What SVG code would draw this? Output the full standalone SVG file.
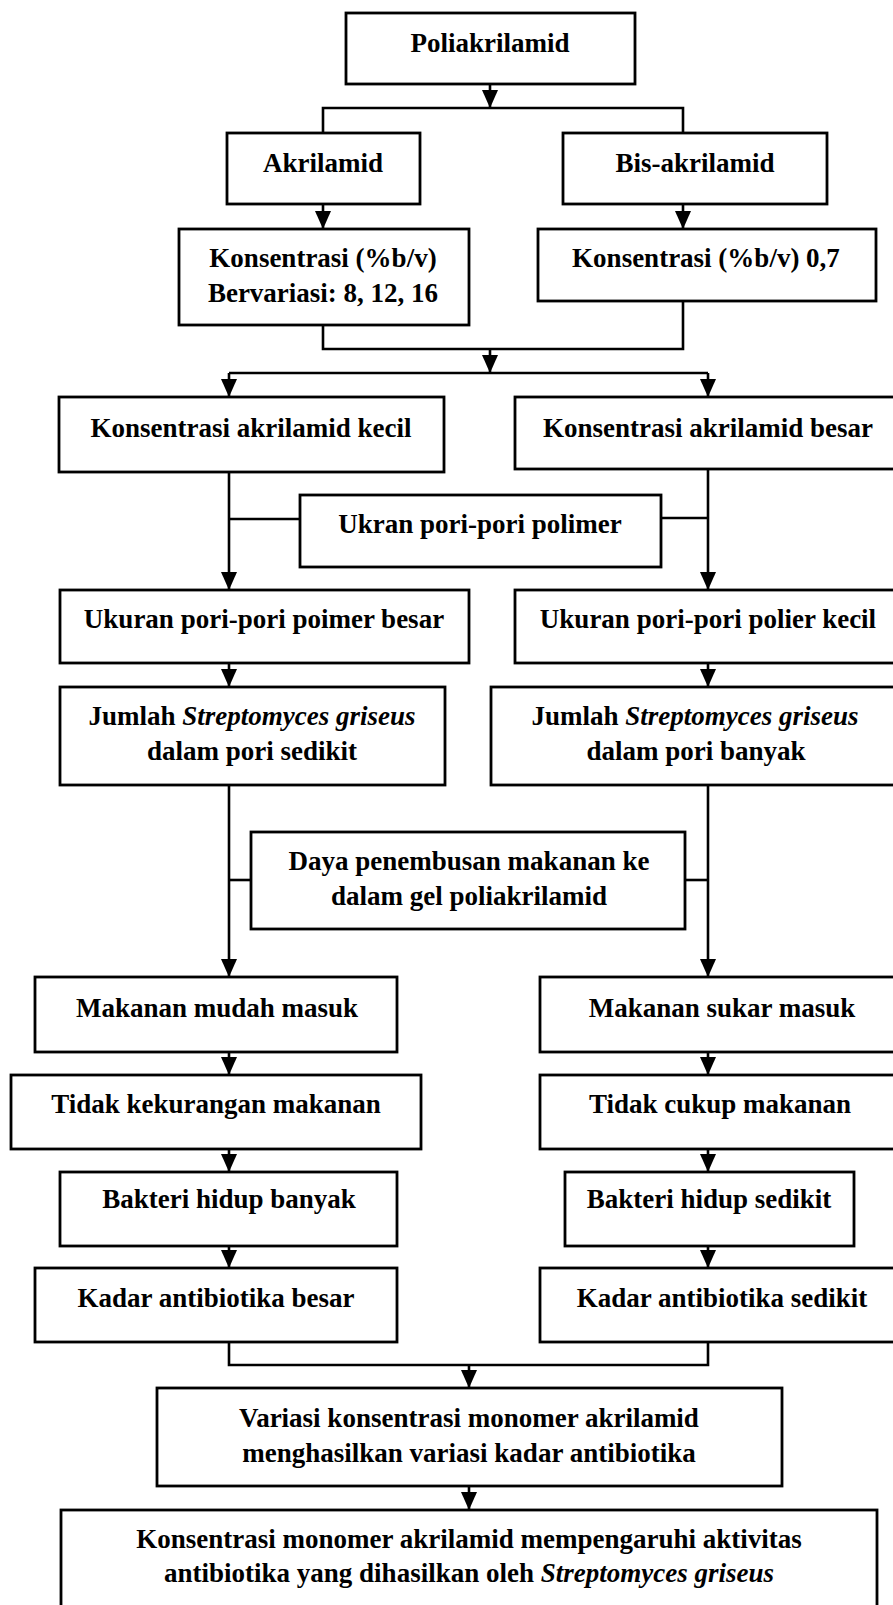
<svg xmlns="http://www.w3.org/2000/svg" width="893" height="1605" viewBox="0 0 893 1605">
<style>
.box{fill:#fff;stroke:#000;stroke-width:2.8}
.ln{fill:none;stroke:#000;stroke-width:2.6}
.ar{fill:none;stroke:#000;stroke-width:2.6;marker-end:url(#ah)}
text{font-family:"Liberation Serif","Times New Roman",serif;font-weight:bold;font-size:27px;text-anchor:middle;fill:#000}
.it{font-style:italic}
</style>
<defs>
<marker id="ah" viewBox="0 0 18 16" refX="18" refY="8" markerWidth="18" markerHeight="16" orient="auto" markerUnits="userSpaceOnUse">
<path d="M0,0 L18,8 L0,16 z" fill="#000"/>
</marker>
</defs>
<rect width="893" height="1605" fill="#fff"/>
<g id="connectors">
<path class="ar" d="M490,84 V108"/>
<path class="ln" d="M323,133 V108 H683 V133"/>
<path class="ar" d="M323,204 V229"/>
<path class="ar" d="M683,204 V229"/>
<path class="ln" d="M323,325 V349 H683 V301"/>
<path class="ar" d="M490,349 V373"/>
<path class="ln" d="M229,373 H708"/>
<path class="ar" d="M229,373 V397"/>
<path class="ar" d="M708,373 V397"/>
<path class="ar" d="M229,472 V590"/>
<path class="ar" d="M708,469 V590"/>
<path class="ln" d="M229,519 H300"/>
<path class="ln" d="M661,518 H708"/>
<path class="ar" d="M229,663 V687"/>
<path class="ar" d="M708,663 V687"/>
<path class="ar" d="M229,785 V977"/>
<path class="ar" d="M708,785 V977"/>
<path class="ln" d="M229,880 H251"/>
<path class="ln" d="M685,880 H708"/>
<path class="ar" d="M229,1052 V1075"/>
<path class="ar" d="M708,1052 V1075"/>
<path class="ar" d="M229,1149 V1172"/>
<path class="ar" d="M708,1149 V1172"/>
<path class="ar" d="M229,1246 V1268"/>
<path class="ar" d="M708,1246 V1268"/>
<path class="ln" d="M229,1342 V1365 H708 V1342"/>
<path class="ar" d="M469,1365 V1388"/>
<path class="ar" d="M469,1486 V1510"/>
</g>
<g id="n-poliakrilamid"><rect class="box" x="346" y="13" width="289" height="71"/><text x="490" y="52">Poliakrilamid</text></g>
<g id="n-akrilamid"><rect class="box" x="227" y="133" width="193" height="71"/><text x="323" y="172">Akrilamid</text></g>
<g id="n-bisakrilamid"><rect class="box" x="563" y="133" width="264" height="71"/><text x="695" y="172">Bis-akrilamid</text></g>
<g id="n-konsentrasi-kiri"><rect class="box" x="179" y="229" width="290" height="96"/><text x="323" y="267">Konsentrasi (%b/v)</text><text x="323" y="302">Bervariasi: 8, 12, 16</text></g>
<g id="n-konsentrasi-kanan"><rect class="box" x="538" y="229" width="338" height="72"/><text x="706" y="267">Konsentrasi (%b/v) 0,7</text></g>
<g id="n-kak"><rect class="box" x="59" y="397" width="385" height="75"/><text x="251" y="437">Konsentrasi akrilamid kecil</text></g>
<g id="n-kab"><rect class="box" x="515" y="397" width="390" height="72"/><text x="708" y="437">Konsentrasi akrilamid besar</text></g>
<g id="n-ukran"><rect class="box" x="300" y="495" width="361" height="72"/><text x="480" y="533">Ukran pori-pori polimer</text></g>
<g id="n-ukuran-besar"><rect class="box" x="60" y="590" width="409" height="73"/><text x="264" y="628">Ukuran pori-pori poimer besar</text></g>
<g id="n-ukuran-kecil"><rect class="box" x="515" y="590" width="390" height="73"/><text x="708" y="628">Ukuran pori-pori polier kecil</text></g>
<g id="n-jumlah-sedikit"><rect class="box" x="60" y="687" width="385" height="98"/><text x="252" y="725">Jumlah <tspan class="it">Streptomyces griseus</tspan></text><text x="252" y="760">dalam pori sedikit</text></g>
<g id="n-jumlah-banyak"><rect class="box" x="491" y="687" width="414" height="98"/><text x="695" y="725">Jumlah <tspan class="it">Streptomyces griseus</tspan></text><text x="696" y="760">dalam pori banyak</text></g>
<g id="n-daya"><rect class="box" x="251" y="832" width="434" height="97"/><text x="469" y="870">Daya penembusan makanan ke</text><text x="469" y="905">dalam gel poliakrilamid</text></g>
<g id="n-mudah"><rect class="box" x="35" y="977" width="362" height="75"/><text x="217" y="1017">Makanan mudah masuk</text></g>
<g id="n-sukar"><rect class="box" x="540" y="977" width="365" height="75"/><text x="722" y="1017">Makanan sukar masuk</text></g>
<g id="n-tidak-kekurangan"><rect class="box" x="11" y="1075" width="410" height="74"/><text x="216" y="1113">Tidak kekurangan makanan</text></g>
<g id="n-tidak-cukup"><rect class="box" x="540" y="1075" width="365" height="74"/><text x="720" y="1113">Tidak cukup makanan</text></g>
<g id="n-bakteri-banyak"><rect class="box" x="60" y="1172" width="337" height="74"/><text x="229" y="1208">Bakteri hidup banyak</text></g>
<g id="n-bakteri-sedikit"><rect class="box" x="565" y="1172" width="289" height="74"/><text x="709" y="1208">Bakteri hidup sedikit</text></g>
<g id="n-kadar-besar"><rect class="box" x="35" y="1268" width="362" height="74"/><text x="216" y="1307">Kadar antibiotika besar</text></g>
<g id="n-kadar-sedikit"><rect class="box" x="540" y="1268" width="365" height="74"/><text x="722" y="1307">Kadar antibiotika sedikit</text></g>
<g id="n-variasi"><rect class="box" x="157" y="1388" width="625" height="98"/><text x="469" y="1427">Variasi konsentrasi monomer akrilamid</text><text x="469" y="1462">menghasilkan variasi kadar antibiotika</text></g>
<g id="n-kesimpulan"><rect class="box" x="61" y="1510" width="816" height="110"/><text x="469" y="1548">Konsentrasi monomer akrilamid mempengaruhi aktivitas</text><text x="469" y="1582">antibiotika yang dihasilkan oleh <tspan class="it">Streptomyces griseus</tspan></text></g>
</svg>
